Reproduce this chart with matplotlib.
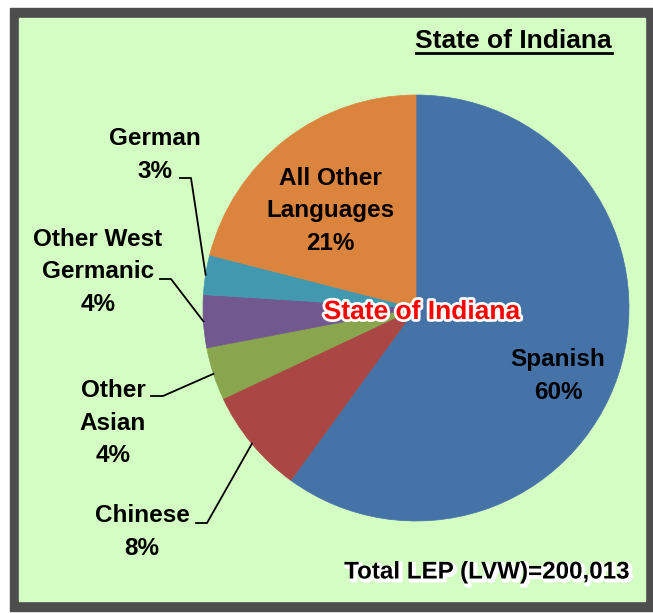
import numpy as np
import matplotlib
matplotlib.use('Agg')
from matplotlib import pyplot as plt
from matplotlib.patches import Rectangle
import matplotlib.patheffects as pe

plt.rcParams['font.family'] = ['Liberation Sans', 'DejaVu Sans']

languages = ['Spanish', 'Chinese', 'Other\nAsian', 'Other West\nGermanic', 'German', 'All Other\nLanguages']
shares = [60, 8, 4, 4, 3, 21]
colors = ['#4572A7', '#AA4643', '#89A54E', '#71588F', '#4198AF', '#DB843D']

# layout (pixel coords, y measured from top)
W, H = 653, 613
cx, cy, r = 416, 308, 213
inside = {0: (558, 376), 5: (330, 211)}
outside = {1: (142, 532), 2: (113, 423), 3: (98, 272), 4: (155, 155)}
elbows = {1: (196, 523, 207), 2: (151, 396, 163), 3: (160, 279, 171), 4: (180, 178, 191)}

fig = plt.figure(figsize=(W / 100, H / 100), dpi=100)
ax = fig.add_axes([0, 0, 1, 1])

ax.add_patch(Rectangle((10, H - 611), 643, 603, color='#4D4D4D', zorder=0))
ax.add_patch(Rectangle((19, H - 601), 626, 583, color='#D4FDC4', zorder=1))

wedges, _ = ax.pie(shares, colors=colors, startangle=90, counterclock=False,
                   center=(cx, H - cy), radius=r,
                   wedgeprops=dict(linewidth=0.5, zorder=2))
for w, c in zip(wedges, colors):
    w.set_edgecolor(c)
    w.set_zorder(2)

fs = 17.5
ls = 1.55
for i, w in enumerate(wedges):
    label = languages[i] + '\n' + f'{shares[i]}%'
    if i in inside:
        x, y = inside[i]
        ax.text(x, H - y, label, ha='center', va='center', fontsize=fs,
                fontweight='bold', linespacing=ls, zorder=4)
    else:
        x, y = outside[i]
        ax.text(x, H - y, label, ha='center', va='center', fontsize=fs,
                fontweight='bold', linespacing=ls, zorder=4)
        mid = np.deg2rad((w.theta1 + w.theta2) / 2)
        ex, ey = cx + r * np.cos(mid), (H - cy) + r * np.sin(mid)
        x0, ly, x1 = elbows[i]
        ax.plot([x0, x1, ex], [H - ly, H - ly, ey], color='black', lw=1.3, zorder=3)

ax.text(612, H - 41, 'State of Indiana', ha='right', va='center', fontsize=19,
        fontweight='bold', zorder=4)
ax.plot([416, 612], [H - 53, H - 53], color='black', lw=2, zorder=4)

ax.text(422, H - 312, 'State of Indiana', ha='center', va='center', fontsize=19,
        fontweight='bold', color='red', zorder=5,
        path_effects=[pe.withStroke(linewidth=4, foreground='white')])

ax.text(630, H - 572, 'Total LEP (LVW)=200,013', ha='right', va='center', fontsize=17.4,
        fontweight='bold', zorder=4,
        path_effects=[pe.SimpleLineShadow(offset=(1.5, -1.5), shadow_color='white', alpha=1, linewidth=3),
                      pe.Normal()])

ax.set_xlim(0, W)
ax.set_ylim(0, H)
ax.set_aspect('auto')
ax.axis('off')
fig.savefig('out.png', dpi=100, facecolor='white')
